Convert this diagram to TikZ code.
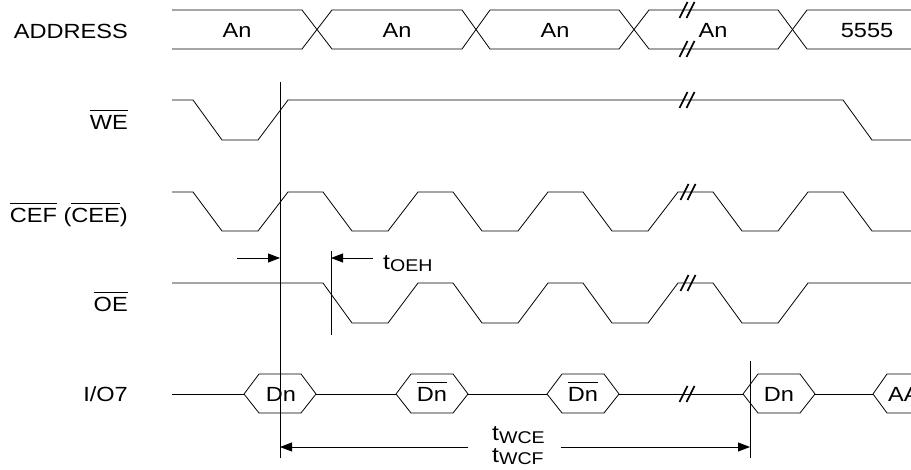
\documentclass[tikz,border=0pt]{standalone}
\usepackage{fontspec}
\setmainfont{Liberation Sans}[FakeStretch=1.15]
\usetikzlibrary{arrows.meta}
\newcommand{\ovl}[1]{\leavevmode\vbox{\hrule height 0.9pt\kern 4.5pt\hbox{#1}}}
\newcommand{\subt}[1]{\raisebox{-2pt}{\fontsize{17}{18}\selectfont #1}}
\newcommand{\brkmark}[2]{%
  \draw[brk] (#1-7.5,#2+8) -- (#1+0.5,#2-8);
  \draw[brk] (#1-0.5,#2+8) -- (#1+7.5,#2-8);}
\begin{document}
\begin{tikzpicture}[x=1pt,y=-1pt,
  sig/.style={line width=0.8pt, line join=miter},
  txt/.style={font=\fontsize{20.5}{24}\selectfont, inner sep=0pt},
  lbl/.style={txt, anchor=base east},
  tlbl/.style={font=\fontsize{21.5}{24}\selectfont, inner sep=0pt, anchor=base west},
  brk/.style={line width=1.7pt},
  vmarker/.style={line width=0.8pt},
  arr/.style={line width=0.8pt, -{Triangle[length=12pt,width=9pt]}}]
\useasboundingbox (0,0) rectangle (911,470);

% signal labels
\node[lbl] (lAddr) at (128,39) {ADDRESS};
\node[lbl] (lWE) at (128,130) {\ovl{WE}};
\node[lbl] (lCE) at (128,223) {\ovl{CEF} (\ovl{CEE})};
\node[lbl] (lOE) at (128,312) {\ovl{OE}};
\node[lbl] (lIO) at (128,402) {I/O7};

% ADDRESS bus
\draw[sig] (172,10) -- (302,10) -- (332,49) -- (462,49) -- (490,10) -- (619,10) -- (649,49) -- (778,49) -- (807,10) -- (911,10);
\draw[sig] (172,49) -- (302,49) -- (332,10) -- (462,10) -- (490,49) -- (619,49) -- (649,10) -- (778,10) -- (807,49) -- (911,49);
\node[txt, anchor=base] (a1) at (237,38) {An};
\node[txt, anchor=base] (a2) at (397,38) {An};
\node[txt, anchor=base] (a3) at (555,38) {An};
\node[txt, anchor=base] (a4) at (713,38) {An};
\node[txt, anchor=base] (a5) at (867,38) {5555};
\brkmark{687}{10}
\brkmark{687}{49}

% WE
\draw[sig] (172,100) -- (193,100) -- (222,140) -- (258,140) -- (288,100) -- (843,100) -- (872,140) -- (911,140);
\brkmark{687}{100}

% CEF (CEE)
\draw[sig] (172,192)
  \foreach \f in {193,323,453,583,713} {
    -- (\f,192) -- (\f+29,231) -- (\f+65,231) -- (\f+95,192) }
  -- (843,192) -- (872,231) -- (911,231);
\brkmark{688}{192}

% OE
\draw[sig] (172,283)
  \foreach \f in {323,453,583,713} {
    -- (\f,283) -- (\f+29,323) -- (\f+65,323) -- (\f+95,283) }
  -- (911,283);
\brkmark{688}{283}

% I/O7
\draw[sig] (172,394) -- (244,394);
\draw[sig] (316,394) -- (396,394);
\draw[sig] (467,394) -- (547,394);
\draw[sig] (619,394) -- (743,394);
\draw[sig] (814,394) -- (873,394);
\foreach \x in {244,396,547,743} {
  \draw[sig] (\x,394) -- (\x+15,374) -- (\x+57,374) -- (\x+72,394) -- (\x+57,413) -- (\x+15,413) -- cycle;
}
\begin{scope}
\clip (0,0) rectangle (911,470);
\draw[sig] (960,374) -- (887,374) -- (873,394) -- (887,413) -- (960,413);
\node[txt, anchor=base west] (d5) at (888,402) {AA};
\end{scope}
\node[txt, anchor=base] (d1) at (281,402) {Dn};
\node[txt, anchor=base] (d2) at (432,402) {\ovl{Dn}};
\node[txt, anchor=base] (d3) at (583,402) {\ovl{Dn}};
\node[txt, anchor=base] (d4) at (779,402) {Dn};
\brkmark{687}{394}

% timing markers
\coordinate (m1t) at (280,82);
\coordinate (m1b) at (280,458);
\coordinate (m2t) at (331,251);
\coordinate (m2b) at (331,335);
\coordinate (m3t) at (750,361);
\coordinate (m3b) at (750,458);
\draw[vmarker] (m1t) -- (m1b);
\draw[vmarker] (m2t) -- (m2b);
\draw[vmarker] (m3t) -- (m3b);

\coordinate (oehA) at (237,258);
\coordinate (oehB) at (373,258);
\draw[arr] (oehA) -- (m1t |- oehA);
\draw[arr] (oehB) -- (m2t |- oehB);
\node[tlbl] (tOEH) at (383,270) {t\subt{OEH}};

\coordinate (wceA) at (468,447);
\coordinate (wceB) at (561,447);
\draw[arr] (wceA) -- (m1t |- wceA);
\draw[arr] (wceB) -- (m3t |- wceB);
\node[tlbl] (tWCE) at (492,441) {t\subt{WCE}};
\node[tlbl] (tWCF) at (492,462) {t\subt{WCF}};
\end{tikzpicture}
\end{document}
